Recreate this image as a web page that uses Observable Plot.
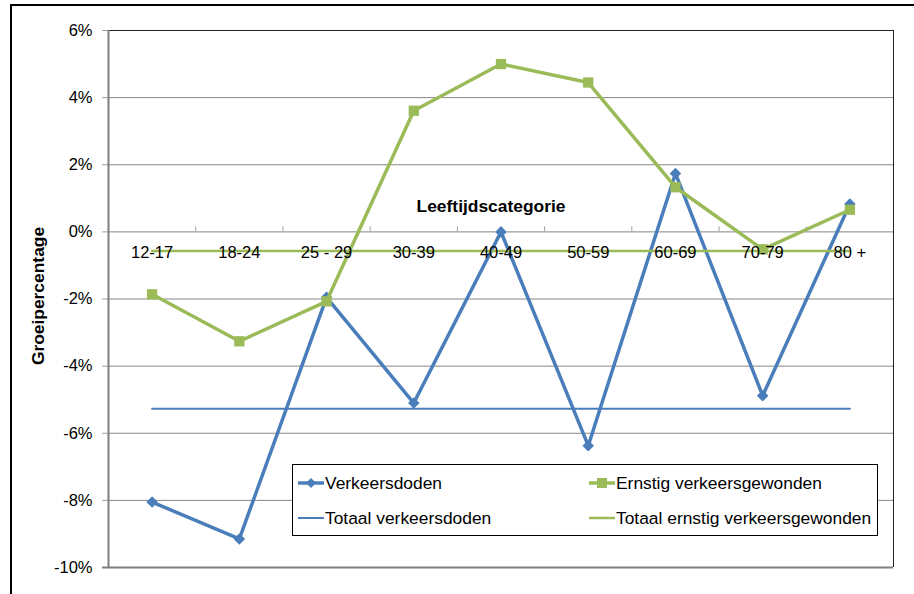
<!DOCTYPE html>
<html>
<head>
<meta charset="utf-8">
<script src="https://cdn.jsdelivr.net/npm/d3@7"></script>
<script src="https://cdn.jsdelivr.net/npm/@observablehq/plot@0.6"></script>
<style>
  body { margin: 0; background: #fff; font-family: "Liberation Sans", Arial, sans-serif; }
  #wrap { position: relative; width: 914px; height: 594px; overflow: hidden; }
  #outer { position: absolute; left: 10px; top: 4px; width: 920px; height: 600px;
           border-left: 2px solid #000; border-top: 2px solid #000; pointer-events: none; }
  #legend { position: absolute; left: 292px; top: 464px; width: 586px; height: 72px;
            box-sizing: border-box; border: 1px solid #000; background: #fff; }
  .item { position: absolute; display: flex; align-items: center; height: 20px;
          font-size: 17.4px; color: #000; white-space: nowrap; }
  .item svg { display: block; margin-right: 1px; }
</style>
</head>
<body>
<div id="wrap">
  <div id="chart"></div>
  <div id="legend"></div>
  <div id="outer"></div>
</div>
<script>
// Age groups on the horizontal axis
const categories = ["12-17", "18-24", "25 - 29", "30-39", "40-49", "50-59", "60-69", "70-79", "80 +"];
// Growth percentage per age group: road deaths
const verkeersdoden = [-8.05, -9.15, -1.95, -5.1, 0.0, -6.37, 1.74, -4.88, 0.83];
// Growth percentage per age group: seriously injured
const ernstigGewonden = [-1.86, -3.26, -2.07, 3.61, 5.0, 4.45, 1.33, -0.52, 0.66];
// Overall growth percentages
const totaalDoden = -5.27;
const totaalGewonden = -0.57;
// Y axis ticks
const yTicks = [-10, -8, -6, -4, -2, 0, 2, 4, 6];

const blue = "#4a7ebb";
const green = "#9bbb59";
const font = "'Liberation Sans', Arial, sans-serif";

const rows = categories.map((cat, i) => ({
  cat,
  pos: i + 0.5,
  doden: verkeersdoden[i],
  gewonden: ernstigGewonden[i],
  totDoden: totaalDoden,
  totGewonden: totaalGewonden
}));
const boundaries = d3.range(1, categories.length);

const chart = Plot.plot({
  width: 914,
  height: 594,
  marginLeft: 108,
  marginRight: 21,
  marginTop: 30,
  marginBottom: 27,
  x: { domain: [0, categories.length], axis: null },
  y: { domain: [-10, 6], axis: null },
  style: { fontFamily: font, color: "#000", background: "transparent" },
  marks: [
    // horizontal gridlines
    Plot.ruleY(yTicks.filter(t => t > -10 && t < 6), { stroke: "#868686", strokeWidth: 1 }),
    // y tick marks
    Plot.ruleY(yTicks, { x1: 0, x2: 0, insetLeft: -6, stroke: "#a0a0a0", strokeWidth: 1 }),
    // category tick marks on the zero line
    Plot.ruleX(boundaries, { y1: 0, y2: 0, insetTop: -5, stroke: "#a0a0a0", strokeWidth: 1 }),
    // plot area border
    Plot.ruleY([6], { stroke: "#222", strokeWidth: 1 }),
    Plot.ruleX([categories.length], { stroke: "#222", strokeWidth: 1 }),
    Plot.ruleX([0], { stroke: "#7f7f7f", strokeWidth: 2 }),
    Plot.ruleY([-10], { x1: 0, x2: categories.length, insetLeft: -6, stroke: "#7f7f7f", strokeWidth: 2 }),
    // y tick labels
    Plot.axisY({ ticks: yTicks, tickFormat: d => d + "%", tickSize: 0, tickPadding: 16, fontSize: 16.5 }),
    // series
    Plot.line(rows, { x: "pos", y: "doden", stroke: blue, strokeWidth: 3.5 }),
    Plot.dot(rows, { x: "pos", y: "doden", symbol: "diamond2", r: 5.2, fill: blue }),
    Plot.line(rows, { x: "pos", y: "gewonden", stroke: green, strokeWidth: 3.5 }),
    Plot.dot(rows, { x: "pos", y: "gewonden", symbol: "square", r: 5.8, fill: green }),
    Plot.line(rows, { x: "pos", y: "totDoden", stroke: blue, strokeWidth: 2 }),
    Plot.line(rows, { x: "pos", y: "totGewonden", stroke: green, strokeWidth: 2.5 }),
    // category labels along the zero line
    Plot.text(rows, { x: "pos", y: 0, text: "cat", dy: 21, fontSize: 16.5, fill: "#000" }),
    // axis titles
    Plot.text(["Leeftijdscategorie"], { x: categories.length / 2, y: 0, dx: -10, dy: -25,
      fontSize: 17.4, fontWeight: "bold", fill: "#000" }),
    Plot.text(["Groeipercentage"], { frameAnchor: "left", textAnchor: "middle", dx: -70, dy: -3, rotate: -90,
      fontSize: 17.4, fontWeight: "bold", fill: "#000" })
  ]
});
document.getElementById("chart").appendChild(chart);

// Legend
const legendItems = [
  { label: "Verkeersdoden", color: blue, width: 3.5, marker: "diamond", left: 5, top: 8 },
  { label: "Ernstig verkeersgewonden", color: green, width: 3.5, marker: "square", left: 296, top: 8 },
  { label: "Totaal verkeersdoden", color: blue, width: 2, marker: null, left: 5, top: 43 },
  { label: "Totaal ernstig verkeersgewonden", color: green, width: 2.5, marker: null, left: 296, top: 43 }
];
const legend = d3.select("#legend");
for (const it of legendItems) {
  const item = legend.append("div").attr("class", "item")
    .style("left", it.left + "px").style("top", it.top + "px");
  const svg = item.append("svg").attr("width", 26).attr("height", 14);
  svg.append("line").attr("x1", 0).attr("x2", 26).attr("y1", 7).attr("y2", 7)
    .attr("stroke", it.color).attr("stroke-width", it.width);
  if (it.marker === "diamond") {
    svg.append("path").attr("d", "M13,2L18,7L13,12L8,7Z").attr("fill", it.color);
  } else if (it.marker === "square") {
    svg.append("rect").attr("x", 8).attr("y", 2).attr("width", 10).attr("height", 10).attr("fill", it.color);
  }
  item.append("span").text(it.label);
}
</script>
</body>
</html>
